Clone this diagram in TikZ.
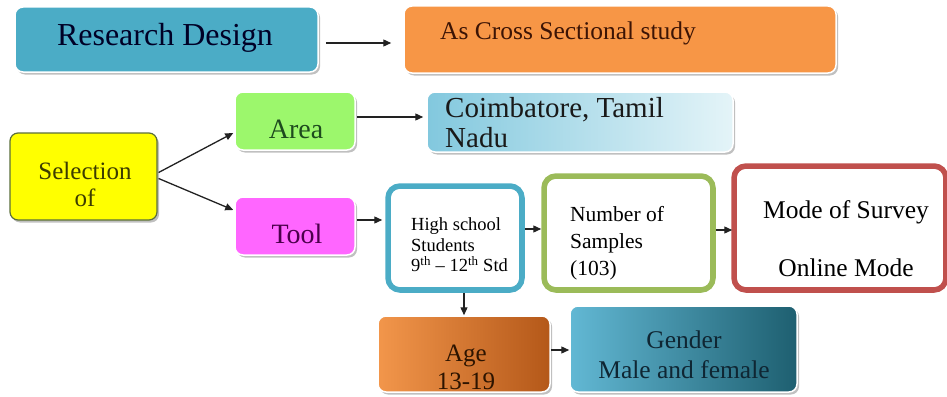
\documentclass[tikz,border=0pt]{standalone}
\usepackage{fontspec}
\setmainfont{Liberation Serif}[Ligatures=TeX]
\newfontfamily\tnr{Liberation Serif}[Ligatures=TeX]
\usetikzlibrary{arrows.meta,shadows}
\definecolor{rdblue}{HTML}{4BACC6}
\definecolor{csorange}{HTML}{F79646}
\definecolor{areagreen}{HTML}{9CF76C}
\definecolor{selyellow}{HTML}{FFFF00}
\definecolor{toolpink}{HTML}{FF66FF}
\definecolor{hsblue}{HTML}{4BACC6}
\definecolor{numgreen}{HTML}{9BBB59}
\definecolor{modered}{HTML}{C0504D}
\definecolor{arrowgray}{HTML}{222222}
\tikzset{
  every node/.append style={font=\tnr},
  boxbase/.style={rectangle, rounded corners=8pt, draw=white, line width=1.5pt,
    drop shadow={shadow xshift=2pt, shadow yshift=-2.5pt, fill=black!45, opacity=.55},
    inner sep=0pt, align=center},
  dblbox/.style={rectangle, rounded corners=12pt, line width=5.5pt, fill=white,
    drop shadow={shadow xshift=1.5pt, shadow yshift=-2pt, fill=black!30, opacity=.5},
    inner sep=0pt},
  innerline/.style={rounded corners=8pt, line width=1.2pt},
  arr/.style={-{Triangle[length=8pt,width=7pt]}, line width=1.3pt, draw=arrowgray},
  txt/.style={inner sep=0pt}
}
\begin{document}
\begin{tikzpicture}[x=1pt,y=-1pt]
\useasboundingbox (0,0) rectangle (947,396);
% top row
\node[boxbase, fill=rdblue, minimum width=303pt, minimum height=65pt] (rd) at (166.5,39.5) {};
\node[txt, font=\tnr\fontsize{32}{34}\selectfont, text=black!85!blue] (rdt) at (165,38) {Research Design};
\node[boxbase, fill=csorange, minimum width=432pt, minimum height=67pt] (cs) at (620,39.5) {};
\node[txt, anchor=west, font=\tnr\fontsize{25.5}{28}\selectfont, text={rgb,255:red,60;green,20;blue,5}] (cst) at (440,33) {As Cross Sectional study};
% selection
\node[boxbase, fill=selyellow, draw={rgb,255:red,90;green,110;blue,60}, line width=1.2pt,
  minimum width=147pt, minimum height=87pt] (sel) at (83.5,176.5) {};
\node[txt, align=center, font=\tnr\fontsize{25}{27}\selectfont, text={rgb,255:red,60;green,60;blue,0}] (selt) at (85,184) {Selection\\of};
\node[boxbase, fill=areagreen, minimum width=120pt, minimum height=58pt] (area) at (295,121) {};
\node[txt, font=\tnr\fontsize{28}{30}\selectfont, text={rgb,255:red,30;green,75;blue,30}] (areat) at (296,129) {Area};
\node[boxbase, left color={rgb,255:red,130;green,200;blue,222}, right color={rgb,255:red,228;green,244;blue,248},
  minimum width=306pt, minimum height=60pt] (coim) at (580,122) {};
\node[txt, anchor=north west, align=left, font=\tnr\fontsize{29}{30}\selectfont, text=black!90] (coimt) at (445,97) {Coimbatore, Tamil\\Nadu};
\node[boxbase, fill=toolpink, minimum width=120pt, minimum height=58pt] (tool) at (295,226) {};
\node[txt, font=\tnr\fontsize{28}{30}\selectfont, text={rgb,255:red,75;green,0;blue,75}] (toolt) at (297,234) {Tool};
% double bordered boxes
\node[dblbox, draw=hsblue, minimum width=134pt, minimum height=104pt] (hs) at (455,238) {};
\draw[innerline, draw=hsblue] ([shift={(5pt,-5pt)}]hs.north west) rectangle ([shift={(-5pt,5pt)}]hs.south east);
\node[txt, align=left, anchor=west, font=\tnr\fontsize{18.5}{20.5}\selectfont] (hst) at (411,245)
  {High school\\Students\\9\textsuperscript{th} -- 12\textsuperscript{th} Std};
\node[dblbox, draw=numgreen, minimum width=169pt, minimum height=114pt] (num) at (628.5,233) {};
\draw[innerline, draw=numgreen] ([shift={(5pt,-5pt)}]num.north west) rectangle ([shift={(-5pt,5pt)}]num.south east);
\node[txt, align=left, anchor=west, font=\tnr\fontsize{21.5}{27}\selectfont] (numt) at (570,243)
  {Number of\\Samples\\(103)};
\node[dblbox, draw=modered, minimum width=212pt, minimum height=124pt] (mode) at (840,228) {};
\draw[innerline, draw=modered] ([shift={(5pt,-5pt)}]mode.north west) rectangle ([shift={(-5pt,5pt)}]mode.south east);
\node[txt, font=\tnr\fontsize{25.5}{28}\selectfont] (modet1) at (846,212) {Mode of Survey};
\node[txt, font=\tnr\fontsize{25.5}{28}\selectfont] (modet2) at (846,268) {Online Mode};
% bottom row
\node[boxbase, left color={rgb,255:red,242;green,150;blue,75}, right color={rgb,255:red,180;green,88;blue,25},
  minimum width=172pt, minimum height=76pt] (age) at (464,354) {};
\node[txt, align=center, font=\tnr\fontsize{25}{28}\selectfont, text={rgb,255:red,45;green,20;blue,0}] (aget) at (466,367) {Age\\13-19};
\node[boxbase, left color={rgb,255:red,98;green,184;blue,212}, right color={rgb,255:red,30;green,95;blue,112},
  minimum width=227pt, minimum height=86pt] (gen) at (683.5,349) {};
\node[txt, align=center, font=\tnr\fontsize{25.5}{30}\selectfont, text={rgb,255:red,15;green,38;blue,51}] (gent) at (684,355) {Gender\\Male and female};
% arrows
\draw[arr] ([shift={(7pt,-3.5pt)}]rd.east) -- ([shift={(-12pt,-3.5pt)}]cs.west);
\draw[arr] ([shift={(1pt,4pt)}]area.east) -- ([shift={(-3pt,5pt)}]coim.west);
\draw[arr] ([shift={(1pt,4pt)}]sel.east) -- ([shift={(-1pt,-12pt)}]area.west);
\draw[arr] ([shift={(1pt,-2pt)}]sel.east) -- ([shift={(-1pt,16pt)}]tool.west);
\draw[arr] ([shift={(1pt,6pt)}]tool.east) -- ([shift={(-3pt,18pt)}]hs.west);
\draw[arr] ([shift={(0pt,9pt)}]hs.east) -- ([shift={(0pt,4pt)}]num.west);
\draw[arr] ([shift={(0pt,3pt)}]num.east) -- ([shift={(1pt,-2pt)}]mode.west);
\draw[arr] (age.north |- hs.south) -- (age.north);
\draw[arr] ([shift={(0pt,4pt)}]age.east) -- ([shift={(0pt,-1pt)}]gen.west);
\end{tikzpicture}
\end{document}
